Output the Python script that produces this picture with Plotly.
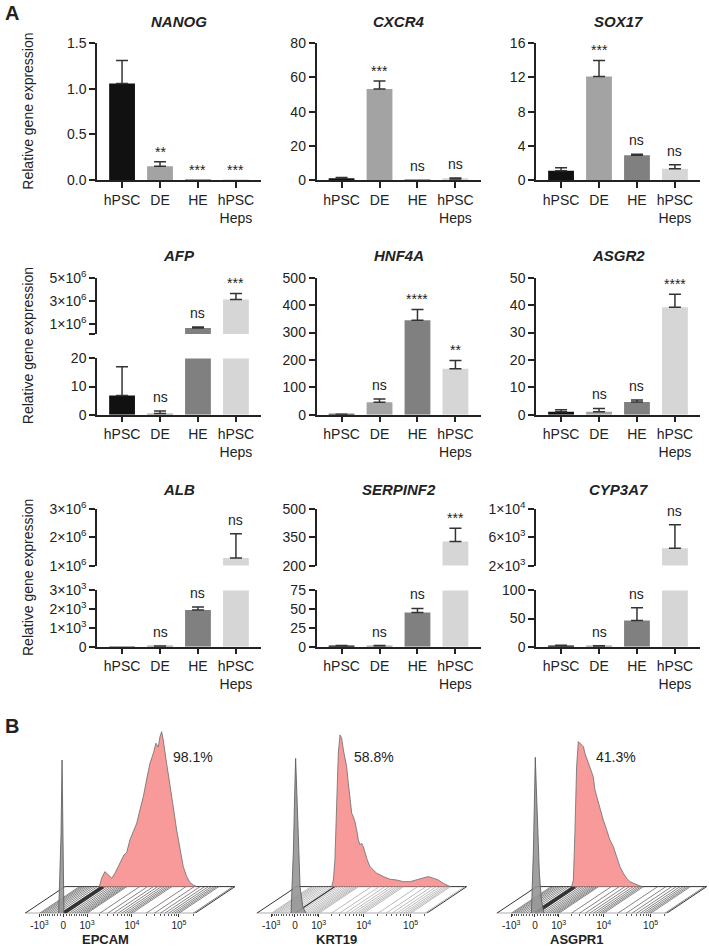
import numpy as np
import plotly.graph_objects as go

# ---- panel A data (relative gene expression, mean + SEM) ----
groups = ["hPSC", "DE", "HE", "hPSC<br>Heps"]

nanog_mean = [1.06, 0.15, 0.003, 0.002]
nanog_err = [0.25, 0.05, 0, 0]
nanog_sig = ["", "**", "***", "***"]

cxcr4_mean = [1.0, 53.2, 0.2, 0.6]
cxcr4_err = [0.4, 4.8, 0, 0.5]
cxcr4_sig = ["", "***", "ns", "ns"]

sox17_mean = [1.08, 12.1, 2.9, 1.33]
sox17_err = [0.35, 1.9, 0.1, 0.45]
sox17_sig = ["", "***", "ns", "ns"]

afp_mean = [6.8, 0.4, 6.3e5, 3.11e6]
afp_err = [10.2, 0.9, 0.8e5, 0.52e6]
afp_sig = ["", "ns", "ns", "***"]

hnf4a_mean = [1.0, 45, 345, 168]
hnf4a_err = [0.5, 12, 39, 30]
hnf4a_sig = ["", "ns", "****", "**"]

asgr2_mean = [1.1, 1.1, 4.6, 39.2]
asgr2_err = [0.7, 1.2, 0.8, 4.8]
asgr2_sig = ["", "ns", "ns", "****"]

alb_mean = [1, 25, 1960, 1.27e6]
alb_err = [0, 10, 150, 0.86e6]
alb_sig = ["", "ns", "ns", "ns"]

serpinf2_mean = [1.2, 1.0, 45.5, 329]
serpinf2_err = [0.5, 0.5, 5.5, 70]
serpinf2_sig = ["", "ns", "ns", "***"]

cyp3a7_mean = [2, 1, 46.4, 4450]
cyp3a7_err = [0.5, 0.5, 22.6, 3340]
cyp3a7_sig = ["", "ns", "ns", "ns"]

# ---- panel B data (offset flow histograms, display units / fraction of mode) ----
flow_tick_vals = [-1000, 0, 1000, 10000, 100000]
flow_tick_text = ["-10<sup>3</sup>", "0", "10<sup>3</sup>", "10<sup>4</sup>", "10<sup>5</sup>"]

epcam_iso_x = [0.198, 0.212, 0.218, 0.222, 0.229]
epcam_iso_y = [0, 0.533, 1.022, 0.644, 0]
epcam_x = [0.202, 0.216, 0.235, 0.255, 0.275, 0.294, 0.314, 0.333, 0.347, 0.363, 0.382,
           0.402, 0.422, 0.441, 0.461, 0.480, 0.500, 0.520, 0.535, 0.549, 0.559, 0.569,
           0.578, 0.598, 0.618, 0.637, 0.657, 0.676, 0.696, 0.716, 0.735, 0.755, 0.775]
epcam_y = [0, 0.056, 0.10, 0.078, 0.056, 0.089, 0.133, 0.178, 0.211, 0.227, 0.311,
           0.367, 0.422, 0.511, 0.60, 0.711, 0.822, 0.889, 0.956, 0.93, 1.0, 1.033,
           0.978, 0.822, 0.689, 0.533, 0.378, 0.244, 0.133, 0.067, 0.027, 0.011, 0]

krt19_iso_x = [0.202, 0.216, 0.225, 0.229, 0.235, 0.245, 0.255, 0.271, 0.290]
krt19_iso_y = [0, 0.422, 0.867, 1.033, 0.844, 0.422, 0.178, 0.044, 0]
krt19_x = [0.206, 0.216, 0.225, 0.235, 0.245, 0.255, 0.265, 0.275, 0.284, 0.294, 0.304,
           0.314, 0.324, 0.333, 0.343, 0.353, 0.363, 0.373, 0.382, 0.392, 0.412, 0.431,
           0.451, 0.471, 0.510, 0.549, 0.588, 0.627, 0.667, 0.706, 0.745, 0.775, 0.804,
           0.833, 0.863, 0.902]
krt19_y = [0, 0.044, 0.178, 0.578, 0.889, 1.011, 0.989, 0.911, 0.867, 0.80, 0.689,
           0.578, 0.489, 0.467, 0.433, 0.378, 0.311, 0.278, 0.289, 0.267, 0.189, 0.133,
           0.111, 0.089, 0.067, 0.049, 0.044, 0.033, 0.033, 0.044, 0.056, 0.067, 0.056,
           0.044, 0.022, 0]

asgpr1_iso_x = [0.204, 0.216, 0.224, 0.227, 0.233, 0.241, 0.251, 0.263, 0.278]
asgpr1_iso_y = [0, 0.422, 0.867, 1.04, 0.844, 0.533, 0.267, 0.089, 0]
asgpr1_x = [0.206, 0.216, 0.225, 0.235, 0.245, 0.255, 0.265, 0.275, 0.284, 0.294, 0.314,
            0.333, 0.343, 0.353, 0.373, 0.392, 0.412, 0.431, 0.451, 0.471, 0.490, 0.510,
            0.529, 0.549, 0.569, 0.608, 0.627]
asgpr1_y = [0, 0.044, 0.356, 0.80, 0.967, 0.956, 0.944, 0.933, 0.889, 0.856, 0.80,
            0.733, 0.644, 0.60, 0.511, 0.444, 0.378, 0.311, 0.267, 0.20, 0.133, 0.089,
            0.056, 0.033, 0.022, 0.004, 0]

# ---- styling / layout ----
W, H = 709, 952
FONT = "Arial, 'Liberation Sans', sans-serif"
INK = "#222222"
BAR_COLORS = ["#111111", "#a3a3a3", "#808080", "#d6d6d6"]
ERR = "#333333"

COL_X = [97, 316.5, 536]
PLOT_W = 164
ROWS = [(43.3, 180.0, 21), (277.7, 414.7, 256), (509.3, 646.7, 489.5)]
SEG_H = 56.3
XR = [-0.66, 3.66]

AXIS = dict(showline=True, linecolor=INK, linewidth=1.5, ticks="outside", ticklen=6,
            tickwidth=1.5, tickcolor=INK, showgrid=False, zeroline=False, automargin=False,
            tickfont=dict(size=14, color=INK), fixedrange=True)

fig = go.Figure()
layout = dict(template="none", width=W, height=H,
              margin=dict(l=0, r=0, t=0, b=0, pad=0, autoexpand=False),
              paper_bgcolor="white", plot_bgcolor="white", showlegend=False,
              font=dict(family=FONT, size=14, color=INK))
annotations = []
n_axes = 0


def note(x, y, text, size, xref="paper", yref="paper", **kw):
    d = dict(x=x, y=y, xref=xref, yref=yref, text=text, showarrow=False,
             xanchor="center", yanchor="middle", font=dict(size=size, color=INK))
    d.update(kw)
    annotations.append(d)


def add_axes(x0, x1, top, bottom, xopts, yopts):
    global n_axes
    n_axes += 1
    s = "" if n_axes == 1 else str(n_axes)
    layout["xaxis" + s] = dict(domain=[x0 / W, x1 / W], anchor="y" + s, **xopts)
    layout["yaxis" + s] = dict(domain=[1 - bottom / H, 1 - top / H], anchor="x" + s, **yopts)
    return "x" + s, "y" + s


def sci(v):
    e = int(np.floor(np.log10(v)))
    return f"{v / 10 ** e:g}×10<sup>{e}</sup>"


def bar_panel(col, row, title, mean, err, sig, low_ticks, low_text, up_ticks=None, up_text=None):
    x0 = COL_X[col]
    x1 = x0 + PLOT_W
    top, bottom, title_y = ROWS[row]
    if up_ticks is None:
        segs = [(top, bottom, low_ticks, low_text, True)]
    else:
        segs = [(bottom - SEG_H, bottom, low_ticks, low_text, True),
                (top, top + SEG_H, up_ticks, up_text, False)]
    idx = list(range(len(groups)))
    tips = [m + e for m, e in zip(mean, err)]
    for t, b, ticks, text, base in segs:
        lo, hi = ticks[0], ticks[-1]
        if base:
            xopts = dict(AXIS, range=XR, tickvals=idx, ticktext=groups)
        else:
            xopts = dict(range=XR, visible=False, fixedrange=True, automargin=False)
        yopts = dict(AXIS, range=[lo, hi], tickvals=ticks, ticktext=text)
        xa, ya = add_axes(x0, x1, t, b, xopts, yopts)
        fig.add_trace(go.Bar(x=idx, y=mean, width=0.68,
                             marker=dict(color=BAR_COLORS, line_width=0),
                             xaxis=xa, yaxis=ya, hoverinfo="skip"))
        show = [i for i in idx if err[i] > 0 and lo <= mean[i] <= hi]
        if show:
            fig.add_trace(go.Scatter(
                x=show, y=[mean[i] for i in show], mode="markers",
                marker=dict(size=1, color="rgba(0,0,0,0)"),
                error_y=dict(type="data", symmetric=False,
                             array=[err[i] for i in show], arrayminus=[0] * len(show),
                             color=ERR, thickness=1.5, width=6),
                xaxis=xa, yaxis=ya, hoverinfo="skip"))
        for i in idx:
            if sig[i] and lo <= tips[i] <= hi:
                note(i, tips[i], sig[i], 14, xref=xa, yref=ya, yanchor="bottom",
                     yshift=4 if sig[i] == "ns" else 0)
    note((x0 + x1) / 2 / W, 1 - title_y / H, f"<b><i>{title}</i></b>", 15)


bar_panel(0, 0, "NANOG", nanog_mean, nanog_err, nanog_sig,
          [0, 0.5, 1.0, 1.5], ["0.0", "0.5", "1.0", "1.5"])
bar_panel(1, 0, "CXCR4", cxcr4_mean, cxcr4_err, cxcr4_sig,
          [0, 20, 40, 60, 80], ["0", "20", "40", "60", "80"])
bar_panel(2, 0, "SOX17", sox17_mean, sox17_err, sox17_sig,
          [0, 4, 8, 12, 16], ["0", "4", "8", "12", "16"])
bar_panel(0, 1, "AFP", afp_mean, afp_err, afp_sig,
          [0, 10, 20], ["0", "10", "20"],
          [1e5, 1e6, 3e6, 5e6], ["", sci(1e6), sci(3e6), sci(5e6)])
bar_panel(1, 1, "HNF4A", hnf4a_mean, hnf4a_err, hnf4a_sig,
          [0, 100, 200, 300, 400, 500], ["0", "100", "200", "300", "400", "500"])
bar_panel(2, 1, "ASGR2", asgr2_mean, asgr2_err, asgr2_sig,
          [0, 10, 20, 30, 40, 50], ["0", "10", "20", "30", "40", "50"])
bar_panel(0, 2, "ALB", alb_mean, alb_err, alb_sig,
          [0, 1000, 2000, 3000], ["0", sci(1e3), sci(2e3), sci(3e3)],
          [1e6, 2e6, 3e6], [sci(1e6), sci(2e6), sci(3e6)])
bar_panel(1, 2, "SERPINF2", serpinf2_mean, serpinf2_err, serpinf2_sig,
          [0, 25, 50, 75], ["0", "25", "50", "75"],
          [200, 350, 500], ["200", "350", "500"])
bar_panel(2, 2, "CYP3A7", cyp3a7_mean, cyp3a7_err, cyp3a7_sig,
          [0, 50, 100], ["0", "50", "100"],
          [2e3, 6e3, 1e4], [sci(2e3), sci(6e3), sci(1e4)])

for top, bottom, _ in ROWS:
    note(28 / W, 1 - (top + bottom) / 2 / H, "Relative gene expression", 14, textangle=-90)

# ---- panel B: offset histograms ----
FLOW_X0 = [25, 256.7, 496.7]
FLOW_BASE = 913.3
PX_P, PX_H = 170, 150
FXR = [-0.06, 1.24]
FYR = [0, 1.25]
DX, DY = 0.235, 0.178


def disp(v):
    return 0.225 + 0.12 * np.arcsinh(np.asarray(v, dtype=float) / 690.0)


floor_vals = ([-k * 100 for k in range(10, 0, -1)] + [0] + [k * 100 for k in range(1, 10)]
              + [k * 1000 for k in range(1, 10)] + [k * 10000 for k in range(1, 10)]
              + [100000, 200000])


def flow_panel(k, name, pct, pct_x, iso_x, iso_y, smp_x, smp_y, hatch, band):
    x0 = FLOW_X0[k]
    xopts = dict(range=FXR, showline=False, showgrid=False, zeroline=False, fixedrange=True,
                 automargin=False,
                 tickvals=list(disp(flow_tick_vals)), ticktext=flow_tick_text,
                 ticks="outside", ticklen=3, tickwidth=1, tickcolor="#333",
                 tickfont=dict(size=10, color=INK),
                 minor=dict(tickvals=list(disp(floor_vals)), ticks="outside", ticklen=2,
                            tickwidth=0.8, tickcolor="#555"))
    yopts = dict(range=FYR, visible=False, fixedrange=True, automargin=False)
    xa, ya = add_axes(x0 + FXR[0] * PX_P, x0 + FXR[1] * PX_P,
                      FLOW_BASE - FYR[1] * PX_H, FLOW_BASE, xopts, yopts)
    fig.add_trace(go.Scatter(x=[0, 1, 1 + DX, DX, 0], y=[0, 0, DY, DY, 0], mode="lines",
                             fill="toself", fillcolor="white", line=dict(color="#333", width=1),
                             xaxis=xa, yaxis=ya, hoverinfo="skip"))
    hx, hy = [], []
    for p in disp(floor_vals):
        hx += [p, p + DX, None]
        hy += [0, DY, None]
    fig.add_trace(go.Scatter(x=hx, y=hy, mode="lines", line=dict(color=hatch, width=0.8),
                             xaxis=xa, yaxis=ya, hoverinfo="skip"))
    p0 = float(disp(0))
    fig.add_trace(go.Scatter(x=[p0, p0 + DX], y=[0, DY], mode="lines",
                             line=dict(color="#333", width=band),
                             xaxis=xa, yaxis=ya, hoverinfo="skip"))
    fig.add_trace(go.Scatter(x=[v + DX for v in smp_x], y=[v + DY for v in smp_y], mode="lines",
                             fill="toself", fillcolor="#f89a9a", line=dict(color="#6b6b6b", width=0.8),
                             xaxis=xa, yaxis=ya, hoverinfo="skip"))
    fig.add_trace(go.Scatter(x=iso_x, y=iso_y, mode="lines", fill="toself",
                             fillcolor="rgba(150,150,150,0.9)", line=dict(color="#555", width=0.8),
                             xaxis=xa, yaxis=ya, hoverinfo="skip"))
    note(pct_x, 1.04, pct, 14, xref=xa, yref=ya)
    note((x0 + 80) / W, 1 - 939 / H, f"<b>{name}</b>", 13)


flow_panel(0, "EPCAM", "98.1%", 0.99, epcam_iso_x, epcam_iso_y, epcam_x, epcam_y, "#666", 3.5)
flow_panel(1, "KRT19", "58.8%", 0.69, krt19_iso_x, krt19_iso_y, krt19_x, krt19_y, "#aaa", 1.2)
flow_panel(2, "ASGPR1", "41.3%", 0.70, asgpr1_iso_x, asgpr1_iso_y, asgpr1_x, asgpr1_y, "#666", 3.5)

note(12 / W, 1 - 13 / H, "<b>A</b>", 20)
note(12 / W, 1 - 726 / H, "<b>B</b>", 20)

layout["annotations"] = annotations
fig.update_layout(layout)
fig.write_html("out.html", config={"displayModeBar": False},
               post_script="document.body.style.margin='0';")
